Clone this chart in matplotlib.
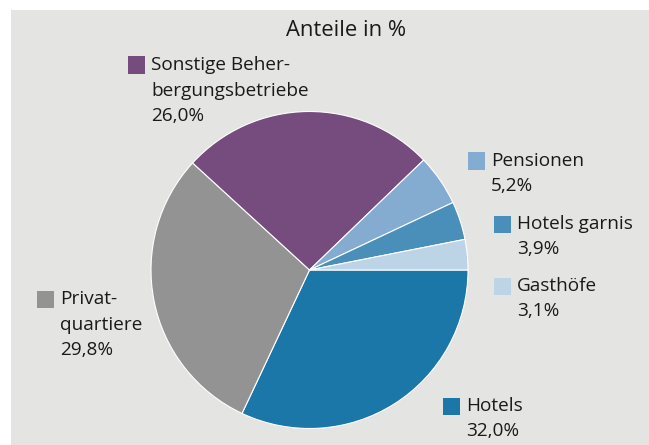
import matplotlib.pyplot as plt
from matplotlib.patches import Rectangle

# Anteile der Beherbergungsbetriebe (in %)
categories = ['Hotels', 'Privat-\nquartiere', 'Sonstige Beher-\nbergungsbetriebe',
              'Pensionen', 'Hotels garnis', 'Gasthöfe']
values = [32.0, 29.8, 26.0, 5.2, 3.9, 3.1]
colors = ['#1a77a8', '#939393', '#764c7f', '#84acd0', '#4a8fba', '#bdd3e6']

# label anchor (square left x, first line centre y) in pixels from top-left
label_pos = [(443, 406), (37, 299), (128, 65), (468, 161), (494, 224), (494, 286)]

W, H = 649, 445
fig = plt.figure(figsize=(W / 100, H / 100), dpi=100)
fig.patch.set_facecolor('white')

# grey panel
fig.patches.append(Rectangle((11 / W, 0), 1, (H - 10) / H, transform=fig.transFigure,
                             facecolor='#e4e4e3', edgecolor='none', zorder=-5))

# pie axes: centre (309.5, 270), radius 158.5 px
cx, cy, r = 309.5, 270, 158.5
ax = fig.add_axes([(cx - r) / W, (H - cy - r) / H, 2 * r / W, 2 * r / H])
ax.set_zorder(1)
ax.pie(values, colors=colors, startangle=0, counterclock=False, radius=1,
       wedgeprops=dict(edgecolor='white', linewidth=0.8))
ax.set_xlim(-1, 1)
ax.set_ylim(-1, 1)
ax.set_aspect('auto')
ax.axis('off')

font = 'Open Sans'
fig.text(346 / W, 1 - 31 / H, 'Anteile in %', ha='center', va='center',
         fontsize=15.8, family=font, color='#1a1a1a')

for cat, val, col, (px, py) in zip(categories, values, colors, label_pos):
    sq = 17
    fig.patches.append(Rectangle((px / W, 1 - (py + sq / 2) / H), sq / W, sq / H,
                                 transform=fig.transFigure, facecolor=col,
                                 edgecolor='none', zorder=2))
    lines = cat.split('\n') + [f'{val:.1f}%'.replace('.', ',')]
    for i, line in enumerate(lines):
        fig.text((px + sq + 6) / W, 1 - (py + i * 25.5) / H, line, ha='left',
                 va='center', fontsize=13.7, family=font, color='#1a1a1a')

fig.savefig('out.png', dpi=100)
